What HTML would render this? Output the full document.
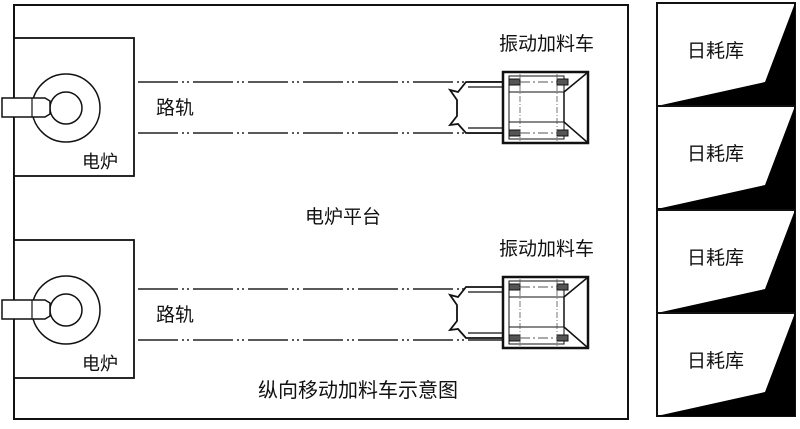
<!DOCTYPE html>
<html><head><meta charset="utf-8"><style>
html,body{margin:0;padding:0;background:#fff}
svg text{font-family:"Liberation Sans","Noto Sans CJK SC",sans-serif;fill:#111}
</style></head><body>
<svg width="800" height="424" viewBox="0 0 800 424" xmlns="http://www.w3.org/2000/svg">
<rect x="0" y="0" width="800" height="424" fill="#fff"/>
<rect x="14" y="5" width="614" height="414" fill="none" stroke="#111" stroke-width="2"/>
<defs>
<g id="furnace">
  <rect x="14" y="0" width="120" height="138" fill="#fff" stroke="#111" stroke-width="1.8"/>
  <circle cx="66" cy="70" r="34" fill="none" stroke="#111" stroke-width="1.5"/>
  <circle cx="66" cy="70" r="16" fill="none" stroke="#111" stroke-width="1.5"/>
  <path d="M2 60 H45 L50 63 V76 L45 79 H2 Z" fill="#fff" stroke="#111" stroke-width="1.5"/>
  <line x1="32" y1="60" x2="32" y2="79" stroke="#111" stroke-width="1.2"/>
  <text x="82" y="130" font-size="18">电炉</text>
</g>
<g id="rails">
  <line x1="138" y1="0" x2="505" y2="0" stroke="#222" stroke-width="1.6" stroke-dasharray="40 4 2 3 2 4"/>
  <line x1="138" y1="51" x2="505" y2="51" stroke="#222" stroke-width="1.6" stroke-dasharray="40 4 2 3 2 4"/>
  <text x="156" y="32" font-size="19">路轨</text>
</g>
<g id="cart">
  <path d="M502 10 H466 L458 20 L450 18 L457 28 V44 L450 53 L458 52 L466 61 H502" fill="#fff" stroke="#111" stroke-width="1.8"/>
  <path d="M502 15 H468 M502 56 H468" stroke="#111" stroke-width="1.2" fill="none"/>
  <rect x="503" y="0" width="85" height="71" fill="#fff" stroke="#111" stroke-width="2.5"/>
  <rect x="509" y="4" width="55" height="63" fill="none" stroke="#111" stroke-width="1"/>
  <path d="M564 20 L587 1 M564 50 L587 70 M564 20 V50" stroke="#111" stroke-width="1.5" fill="none"/>
  <line x1="509" y1="20" x2="564" y2="20" stroke="#111" stroke-width="1"/>
  <line x1="509" y1="50" x2="564" y2="50" stroke="#111" stroke-width="1"/>
  <rect x="509" y="7" width="11" height="6" fill="#555" stroke="#111"/>
  <rect x="557" y="7" width="11" height="6" fill="#555" stroke="#111"/>
  <rect x="509" y="58" width="11" height="6" fill="#555" stroke="#111"/>
  <rect x="557" y="58" width="11" height="6" fill="#555" stroke="#111"/>
  <line x1="520" y1="10" x2="557" y2="10" stroke="#555" stroke-width="1" stroke-dasharray="10 3 2 3"/>
  <line x1="520" y1="61" x2="557" y2="61" stroke="#555" stroke-width="1" stroke-dasharray="10 3 2 3"/>
  <line x1="520" y1="2" x2="520" y2="69" stroke="#555" stroke-width="0.8" stroke-dasharray="6 2 1 2"/>
  <line x1="557" y1="2" x2="557" y2="69" stroke="#555" stroke-width="0.8" stroke-dasharray="6 2 1 2"/>
  <text x="499" y="-22" font-size="19">振动加料车</text>
</g>
<g id="silo">
  <rect x="657" y="0" width="138" height="103" fill="#fff" stroke="#111" stroke-width="2"/>
  <path d="M795 0 L765 79 L657 103 H795 Z" fill="#000"/>
  <text x="687" y="54" font-size="19">日耗库</text>
</g>
</defs>
<use href="#furnace" y="38"/>
<use href="#furnace" y="240"/>
<use href="#rails" y="82"/>
<use href="#rails" y="289"/>
<use href="#cart" y="72"/>
<use href="#cart" y="277"/>
<use href="#silo" y="3"/>
<use href="#silo" y="106"/>
<use href="#silo" y="210"/>
<use href="#silo" y="313"/>
<text x="305" y="223" font-size="19">电炉平台</text>
<text x="258" y="397" font-size="20">纵向移动加料车示意图</text>
</svg>
</body></html>
